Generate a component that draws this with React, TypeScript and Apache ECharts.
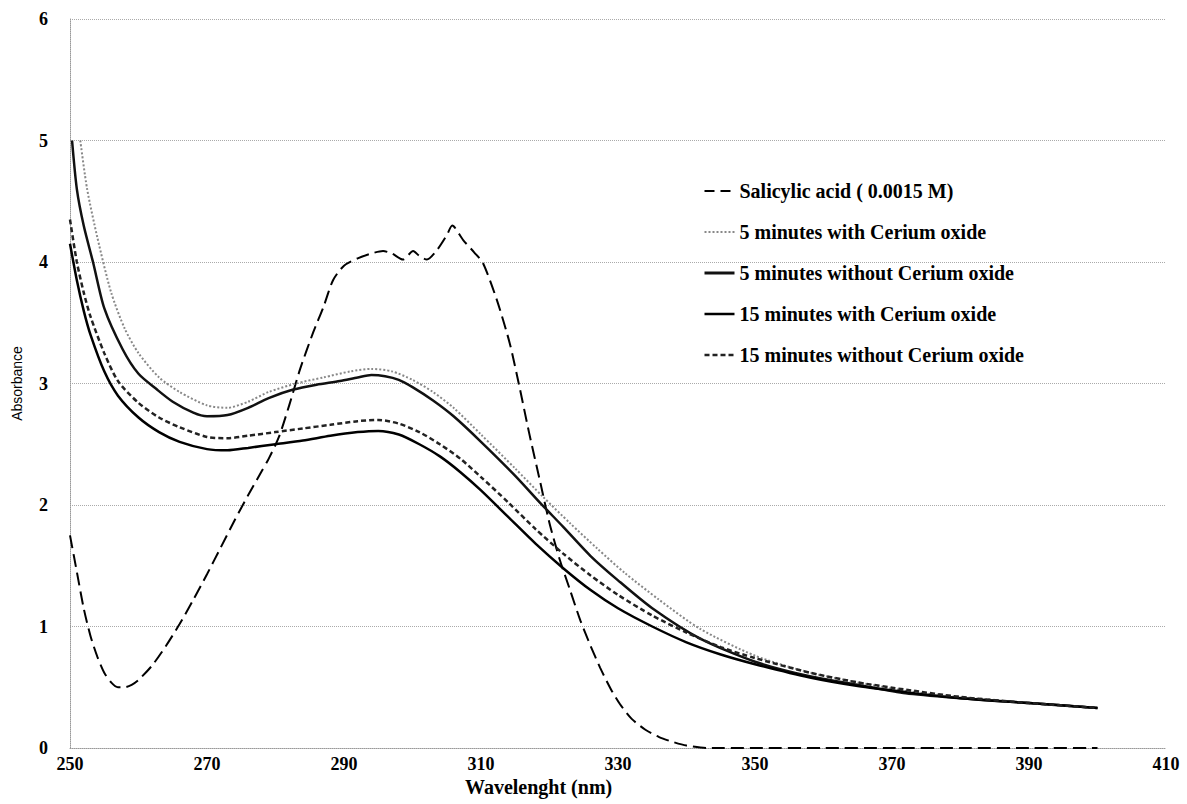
import React, { useEffect, useRef } from "react";
import * as echarts from "echarts";

// ---- Data ----
const seriesNames = [
  "Salicylic acid ( 0.0015 M)",
  "5 minutes with Cerium oxide",
  "5 minutes without Cerium oxide",
  "15 minutes with Cerium oxide",
  "15 minutes without Cerium oxide",
];

const xTicks = [250, 270, 290, 310, 330, 350, 370, 390, 410];

const saWl = [250, 251, 252, 253, 254, 255, 256, 257, 258, 259, 260, 262, 264, 266, 268, 270, 272, 274, 276, 278, 279, 280.5, 282, 283.6, 285.5, 287, 288.4, 290, 292, 294, 295.7, 297, 298.6, 300.1, 301, 302.1, 303.6, 305, 305.8, 307.4, 309, 310.3, 312.3, 314.2, 315.7, 317, 318.6, 320, 321.5, 323, 324.5, 326, 327.4, 329, 330.3, 332, 334, 336, 338, 340, 343, 350, 360, 370, 380, 390, 400];
const saVal = [1.75, 1.45, 1.15, 0.92, 0.75, 0.62, 0.54, 0.5, 0.5, 0.52, 0.56, 0.68, 0.84, 1.02, 1.22, 1.43, 1.65, 1.87, 2.08, 2.28, 2.38, 2.56, 2.82, 3.12, 3.42, 3.63, 3.85, 3.97, 4.03, 4.07, 4.09, 4.07, 4.02, 4.09, 4.05, 4.02, 4.1, 4.22, 4.3, 4.18, 4.08, 3.99, 3.69, 3.33, 2.95, 2.6, 2.2, 1.85, 1.55, 1.3, 1.05, 0.84, 0.66, 0.48, 0.36, 0.24, 0.15, 0.09, 0.05, 0.02, 0.0, 0, 0, 0, 0, 0, 0];

const m5WithWl = [251.5, 252.5, 254, 256, 258, 260, 263, 266, 270, 273, 276, 279, 283, 287, 291, 294, 297, 300, 303, 306, 310, 315, 319, 323, 327, 331, 336, 342, 350, 358, 365, 372, 380, 390, 400];
const m5WithVal = [5.0, 4.6, 4.2, 3.75, 3.45, 3.25, 3.05, 2.93, 2.82, 2.8, 2.85, 2.93, 3.0, 3.05, 3.1, 3.12, 3.1, 3.03, 2.93, 2.8, 2.58, 2.3, 2.07, 1.85, 1.64, 1.44, 1.22, 0.98, 0.76, 0.62, 0.54, 0.47, 0.42, 0.37, 0.33];

const m5WithoutWl = [250.3, 251, 252, 253.4, 255, 257.7, 260, 262.7, 265, 268, 270, 273, 276, 279, 282.6, 286, 289.4, 292, 294, 296, 298, 300, 303, 306, 310, 315, 318.6, 322, 326, 330, 335, 342, 350, 358, 365, 372, 380, 390, 400];
const m5WithoutVal = [5.0, 4.6, 4.3, 3.99, 3.62, 3.28, 3.08, 2.95, 2.85, 2.76, 2.73, 2.74, 2.8, 2.88, 2.95, 2.99, 3.02, 3.05, 3.07, 3.06, 3.03, 2.97, 2.86, 2.73, 2.52, 2.24, 2.02, 1.82, 1.58, 1.38, 1.15, 0.9, 0.71, 0.59, 0.52, 0.45, 0.41, 0.37, 0.33];

const m15WithWl = [250, 251, 252, 253, 255, 257, 260, 263, 266, 270, 273, 276, 280, 284, 288, 292, 295, 298, 301, 304, 307, 310, 314, 318, 322, 326, 330, 335, 340, 345, 350, 358, 365, 372, 380, 390, 400];
const m15WithVal = [4.15, 3.85, 3.6, 3.4, 3.1, 2.9, 2.72, 2.6, 2.52, 2.46, 2.45, 2.47, 2.5, 2.53, 2.57, 2.6, 2.61, 2.58, 2.5, 2.4, 2.27, 2.12, 1.9, 1.68, 1.48, 1.3, 1.15, 1.0, 0.87, 0.77, 0.69, 0.58, 0.51, 0.46, 0.41, 0.37, 0.33];

const m15WithoutWl = [250, 251, 252, 253, 255, 257, 260, 263, 266, 270, 273, 276, 280, 284, 288, 292, 295, 298, 301, 304, 307, 310, 314, 318, 322, 326, 330, 335, 340, 345, 350, 358, 365, 372, 380, 390, 400];
const m15WithoutVal = [4.35, 4.0, 3.75, 3.55, 3.25, 3.02, 2.84, 2.72, 2.64, 2.56, 2.55, 2.57, 2.6, 2.63, 2.66, 2.69, 2.7, 2.67, 2.6, 2.5, 2.38, 2.23, 2.02, 1.8, 1.6, 1.42, 1.26, 1.09, 0.95, 0.83, 0.74, 0.62, 0.54, 0.48, 0.42, 0.37, 0.33];

const zip = (xs: number[], ys: number[]) => xs.map((x, i) => [x, ys[i]]);

const SERIF = "'Liberation Serif', 'Times New Roman', serif";

const styles = [
  { color: "#000", width: 2, type: [13, 6] as any },
  { color: "#888", width: 2, type: [2, 2] as any },
  { color: "#111", width: 2.5, type: "solid" as any },
  { color: "#000", width: 2.5, type: "solid" as any },
  { color: "#222", width: 2.5, type: [5, 3] as any },
];
const legendLine = [
  { color: "#000", width: 2, type: [10, 6] as any },
  { color: "#888", width: 2, type: [2, 2] as any },
  { color: "#111", width: 3, type: "solid" as any },
  { color: "#000", width: 2.5, type: "solid" as any },
  { color: "#222", width: 2.5, type: [5, 3] as any },
];

export default function App() {
  const ref = useRef<HTMLDivElement>(null);
  useEffect(() => {
    if (!ref.current) return;
    const chart = echarts.init(ref.current, undefined, { renderer: "svg" });
    const lineBase = { type: "line", symbol: "none", smooth: 0.25, z: 3 };
    const seriesData = [
      zip(saWl, saVal),
      zip(m5WithWl, m5WithVal),
      zip(m5WithoutWl, m5WithoutVal),
      zip(m15WithWl, m15WithVal),
      zip(m15WithoutWl, m15WithoutVal),
    ];
    chart.setOption({
      animation: false,
      backgroundColor: "#fff",
      grid: { left: 70, right: 21, top: 19, bottom: 56, containLabel: false },
      legend: {
        orient: "vertical",
        left: 698,
        top: 176,
        itemWidth: 30,
        itemHeight: 14,
        itemGap: 21,
        textStyle: { fontFamily: SERIF, fontWeight: "bold", fontSize: 20, color: "#000" },
        data: seriesNames.map((n, i) => ({
          name: n,
          itemStyle: { opacity: 0 },
          lineStyle: legendLine[i],
        })),
      },
      xAxis: {
        type: "value",
        min: 250,
        max: 410,
        axisLine: { show: true, lineStyle: { color: "#999", type: "dotted", width: 1 } },
        axisTick: { show: false, customValues: xTicks },
        splitLine: { show: false },
        axisLabel: {
          customValues: xTicks,
          margin: 7,
          fontFamily: SERIF,
          fontWeight: "bold",
          fontSize: 18,
          lineHeight: 18,
          color: "#000",
        },
      },
      yAxis: {
        type: "value",
        min: 0,
        max: 6,
        interval: 1,
        name: "Absorbance",
        nameLocation: "middle",
        nameGap: 46,
        nameTextStyle: { fontFamily: "'Liberation Sans', Arial, sans-serif", fontSize: 14, color: "#000" },
        axisLine: { show: true, lineStyle: { color: "#999", type: "dotted", width: 1 } },
        axisTick: { show: false },
        splitLine: { show: true, lineStyle: { color: "#aaa", type: "dotted", width: 1 } },
        axisLabel: {
          margin: 22,
          fontFamily: SERIF,
          fontWeight: "bold",
          fontSize: 18,
          color: "#000",
        },
      },
      graphic: [
        {
          type: "text",
          left: 465,
          top: 777,
          style: {
            text: "Wavelenght (nm)",
            font: "bold 20px 'Liberation Serif', serif",
            fill: "#000",
          },
        },
      ],
      series: seriesNames.map((n, i) => ({
        ...lineBase,
        name: n,
        data: seriesData[i],
        lineStyle: styles[i],
        itemStyle: { color: styles[i].color },
      })),
    });
    return () => chart.dispose();
  }, []);
  return (
    <div
      ref={ref}
      style={{ position: "fixed", left: 0, top: 0, width: 1187, height: 804, background: "#fff" }}
    />
  );
}
